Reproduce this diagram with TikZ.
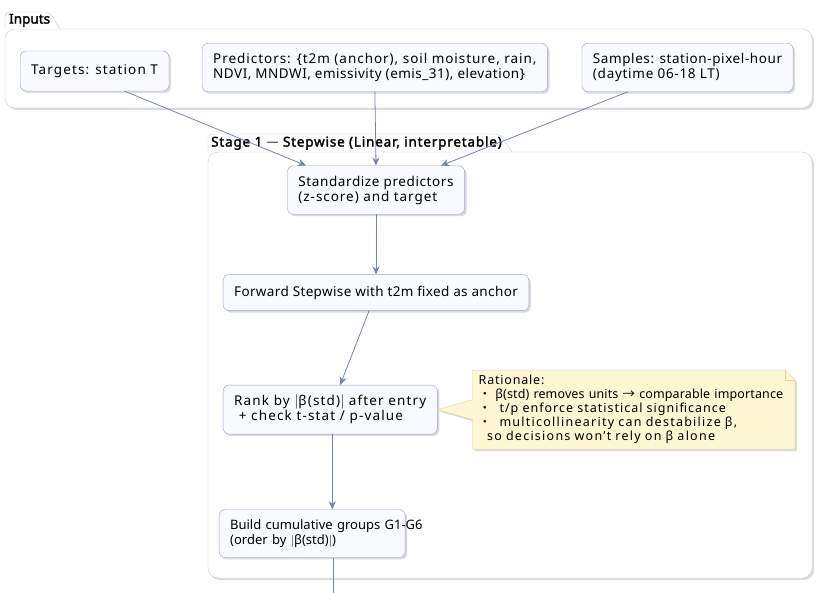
\documentclass[tikz,border=0pt]{standalone}
\usepackage{fontspec}
\setmainfont{Noto Sans}
\newfontfamily\cjk{Noto Sans CJK SC}
\newfontfamily\headfont{Noto Sans}[FakeBold=2]
\usetikzlibrary{arrows.meta,positioning,shadows}

\definecolor{boxline}{RGB}{150,164,200}
\definecolor{boxfill}{RGB}{249,250,255}
\definecolor{frameline}{RGB}{196,204,226}
\definecolor{arrowcol}{RGB}{118,134,166}
\definecolor{notefill}{RGB}{255,246,212}
\definecolor{noteline}{RGB}{232,212,150}

% letter-spaced line, as the reference stretches each line
\newcommand{\spaced}[2]{{\addfontfeature{LetterSpace=#1}#2}}

\begin{document}
\begin{tikzpicture}[x=1pt, y=-1pt,
    shade/.style={drop shadow={shadow xshift=2pt, shadow yshift=-2pt, opacity=0.35, fill=black!40}},
    box/.style={draw=boxline, fill=boxfill, rounded corners=6pt, align=left, inner xsep=11pt, inner ysep=10pt,
      minimum height=36pt, font=\fontsize{13.5}{15}\selectfont, shade},
    frame/.style={draw=frameline, fill=white, rounded corners=10pt, shade},
    tab/.style={draw=frameline, fill=white},
    tabtext/.style={font=\headfont\fontsize{13.5}{15}\selectfont, inner sep=0pt, anchor=south west},
    note/.style={inner xsep=6pt, inner ysep=5pt, align=left, text width=310pt, font=\fontsize{12.5}{14}\selectfont},
    arrow/.style={-{Stealth[length=8pt, width=7pt, inset=2.5pt]}, draw=arrowcol, line width=0.8pt}
  ]
    \useasboundingbox (0,0) rectangle (826,593);
    % package frames
    \draw[frame] (5,29) rectangle (812,108);
    \draw[tab, rounded corners=5pt] (5,29) -- (5,12) -- (50,12) [sharp corners] -- (60,29);
    \node[tabtext] (inputs) at (9,27) {Inputs};
    \draw[frame] (208,152) rectangle (812,578);
    \draw[tab, rounded corners=5pt] (208,152) -- (208,134) -- (500,134) [sharp corners] -- (512,152);
    \node[tabtext] (stage) at (211,150) {\spaced{6}{Stage 1 {\cjk —} Stepwise (Linear, interpretable)}};

    % inputs
    \node[box, anchor=west, minimum height=40pt] (tgt) at (20,71) {\spaced{8.2}{Targets: station T}};
    \node[box, anchor=west] (pred) at (202,67.5) {\spaced{7.1}{Predictors: \{t2m (anchor), soil moisture, rain,}\\
      \spaced{3.7}{NDVI, MNDWI, emissivity (emis\_31), elevation\}}};
    \node[box, right=34pt of pred] (smp) {\spaced{4.3}{Samples: station-pixel-hour}\\\spaced{5.3}{(daytime 06-18 LT)}};

    % stage 1
    \node[box] (std) at (376,190) {\spaced{4.4}{Standardize predictors}\\\spaced{7}{(z-score) and target}};
    \node[box, below=60pt of std] (fwd) {\spaced{2.7}{Forward Stepwise with t2m fixed as anchor}};
    \node[box, below=74pt of fwd.south west, anchor=north west] (rank) {\spaced{8.5}{Rank by $|$β(std)$|$ after entry}\\
      \spaced{8.5}{\ + check t-stat / p-value}};
    \node[box, below=75pt of rank.south west, anchor=north west, xshift=-4pt, text width=164pt,
      font=\fontsize{13}{15}\selectfont] (grp) {\mbox{Build cumulative groups G1-G6}\\\mbox{(order by $|$β(std)$|$)}};
    \coordinate (out) at (333,600);

    % rationale note
    \node[note, right=35pt of rank] (why) {\spaced{6.4}{Rationale:}\\
      {\cjk ・}\ \spaced{1}{β(std) removes units {\cjk →} comparable importance}\\
      {\cjk ・}\ \spaced{8}{\ t/p enforce statistical significance}\\
      {\cjk ・}\ \spaced{10}{\ multicollinearity can destabilize β,}\\
      \spaced{10}{\ \ so decisions won't rely on β alone}};
    \filldraw[draw=noteline, fill=notefill, shade] (why.north west) -- ([xshift=-10pt]why.north east)
      -- ([yshift=-10pt]why.north east) -- (why.south east) -- (why.south west)
      -- ([yshift=-10pt]why.west) -- (rank.east) -- ([yshift=10pt]why.west) -- cycle;
    \draw[draw=noteline] ([xshift=-10pt]why.north east) |- ([yshift=-10pt]why.north east);
    \node[note] at (why) {\spaced{6.4}{Rationale:}\\
      {\cjk ・}\ \spaced{1}{β(std) removes units {\cjk →} comparable importance}\\
      {\cjk ・}\ \spaced{8}{\ t/p enforce statistical significance}\\
      {\cjk ・}\ \spaced{10}{\ multicollinearity can destabilize β,}\\
      \spaced{10}{\ \ so decisions won't rely on β alone}};

    % connectors
    \draw[arrow] ([xshift=30pt]tgt.south) -- ([xshift=-70pt]std.north);
    \draw[arrow] (pred.south) -- (std.north);
    \draw[arrow] ([xshift=-60pt]smp.south) -- ([xshift=65pt]std.north);
    \draw[arrow] (std) -- (fwd);
    \draw[arrow] ([xshift=-7pt]fwd.south) -- ([xshift=10pt]rank.north);
    \draw[arrow] ([xshift=2pt]rank.south) -- ([xshift=2pt]rank.south |- grp.north);
    \draw[draw=arrowcol, line width=0.8pt] (grp.south -| out) -- (out);
  \end{tikzpicture}
\end{document}
